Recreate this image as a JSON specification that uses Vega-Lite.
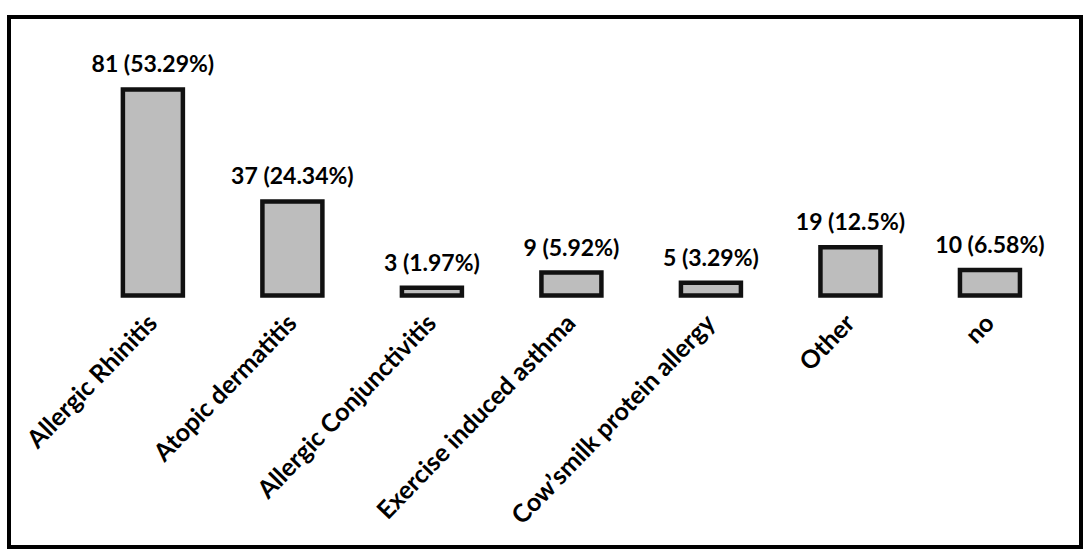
{
  "$schema": "https://vega.github.io/schema/vega-lite/v6.json",
  "width": 1072,
  "height": 530,
  "autosize": "none",
  "padding": {"left": 9, "top": 17, "right": 9, "bottom": 3},
  "background": "white",
  "config": {"view": {"stroke": "#000000", "strokeWidth": 4}, "font": "Lato"},
  "data": {"values": [
    {"condition": "Allergic Rhinitis", "count": 81, "label": "81 (53.29%)"},
    {"condition": "Atopic dermatitis", "count": 37, "label": "37 (24.34%)"},
    {"condition": "Allergic Conjunctivitis", "count": 3, "label": "3 (1.97%)"},
    {"condition": "Exercise induced asthma", "count": 9, "label": "9 (5.92%)"},
    {"condition": "Cow’smilk protein allergy", "count": 5, "label": "5 (3.29%)"},
    {"condition": "Other", "count": 19, "label": "19 (12.5%)"},
    {"condition": "no", "count": 10, "label": "10 (6.58%)"}
  ]},
  "encoding": {
    "x": {
      "field": "condition",
      "type": "nominal",
      "sort": null,
      "title": null,
      "scale": {
        "domain": ["Allergic Rhinitis", "Atopic dermatitis", "Allergic Conjunctivitis", "Exercise induced asthma", "Cow’smilk protein allergy", "Other", "no"],
        "paddingInner": 0.57,
        "paddingOuter": 0.627,
        "align": 0.651
      },
      "axis": {
        "offset": -251.5,
        "domain": false,
        "ticks": false,
        "labelAngle": -46,
        "labelAlign": "right",
        "labelBaseline": "middle",
        "labelFont": "Lato",
        "labelFontWeight": "bold",
        "labelFontSize": 25,
        "labelColor": "#000000",
        "labelPadding": 23,
        "labelLimit": 0
      }
    },
    "y": {
      "field": "count",
      "type": "quantitative",
      "scale": {"domain": [-98.9, 109.5], "nice": false, "zero": false},
      "axis": null
    }
  },
  "layer": [
    {
      "mark": {"type": "bar", "fill": "#bdbdbd", "stroke": "#111111", "strokeWidth": 4.5}
    },
    {
      "mark": {"type": "text", "font": "Lato", "fontWeight": "bold", "fontSize": 23, "baseline": "alphabetic", "dy": -17, "color": "#000000"},
      "encoding": {"text": {"field": "label"}}
    },
    {
      "data": {"values": [{}]},
      "mark": {"type": "rule", "color": "#555555", "strokeWidth": 1.2},
      "encoding": {
        "x": {"datum": "Allergic Rhinitis", "bandPosition": -0.633},
        "x2": {"datum": "no", "bandPosition": 1.633},
        "y": {"datum": 0}
      }
    }
  ]
}
